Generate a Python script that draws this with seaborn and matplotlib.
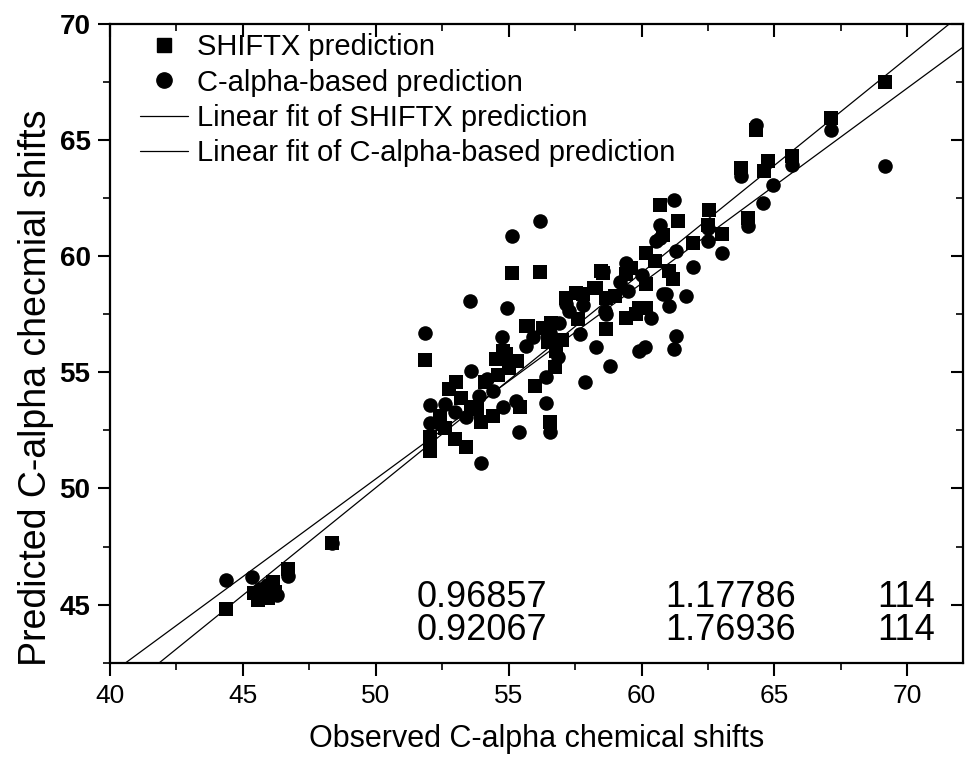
import matplotlib
matplotlib.use("Agg")
import matplotlib.pyplot as plt
from matplotlib.lines import Line2D
from matplotlib.ticker import MultipleLocator, FormatStrFormatter
import seaborn as sns
import pandas as pd

# observed vs predicted C-alpha shifts
shiftx_obs = [
    44.35, 45.41, 45.58, 45.83, 46.14, 46.20, 45.95, 46.68, 48.36,
    51.87, 52.03, 52.03, 52.97, 53.41, 53.03, 52.75, 53.60, 53.97, 54.41,
    55.41, 54.79, 54.54, 55.98, 55.73, 56.60, 56.79, 56.73, 56.54, 55.12,
    56.19, 55.66, 56.29, 54.91, 53.20, 52.40, 54.10, 54.60, 55.00, 55.30,
    53.80, 52.60, 57.17, 57.54, 58.30, 58.67, 58.67, 57.79, 58.23, 58.48,
    58.55, 59.42, 59.42, 59.80, 59.92, 60.17, 60.17, 60.17, 61.05, 61.18,
    61.36, 60.68, 62.53, 61.93, 62.49, 63.03, 63.99, 63.74, 64.77, 64.62,
    64.31, 65.66, 67.13, 69.17, 57.00, 57.60, 59.00, 59.60, 60.50, 60.80,
    56.50,
]
shiftx_pred = [
    44.79, 45.48, 45.19, 45.62, 45.98, 45.55, 45.30, 46.55, 47.67,
    55.54, 52.20, 51.63, 52.13, 51.80, 54.56, 54.30, 53.49, 52.85, 53.13,
    53.49, 55.92, 55.56, 54.42, 57.00, 57.14, 55.92, 55.21, 52.85, 59.27,
    59.33, 56.99, 56.92, 55.78, 53.90, 53.10, 54.60, 54.90, 55.20, 55.50,
    53.40, 52.60, 58.21, 58.43, 58.64, 58.21, 56.86, 58.36, 58.64, 59.36,
    59.28, 59.21, 57.35, 57.50, 57.78, 57.78, 58.79, 60.14, 59.36, 59.00,
    61.50, 62.19, 62.00, 60.57, 61.36, 60.96, 61.62, 63.79, 64.08, 63.65,
    65.44, 64.29, 65.94, 67.51, 56.40, 57.30, 58.30, 59.50, 59.80, 60.90,
    56.30,
]

calpha_obs = [
    44.36, 45.36, 45.64, 46.27, 45.89, 46.70, 48.36,
    51.87, 53.56, 54.94, 56.19, 55.14, 54.76, 53.57, 52.03, 52.59, 56.41,
    53.97, 55.38, 56.57, 55.66, 56.54, 56.85, 55.29, 54.79, 54.41, 53.41,
    52.41, 52.03, 56.41, 57.17, 55.91, 56.79, 53.00, 54.20, 55.00, 53.90,
    57.67, 58.30, 57.86, 58.80, 59.92, 60.13, 61.30, 61.24, 57.29, 58.67,
    58.61, 59.49, 59.42, 60.36, 61.05, 60.92, 61.68, 60.80, 58.55, 61.30,
    60.68, 60.55, 60.68, 61.21, 61.95, 62.49, 62.49, 63.03, 63.99, 64.59,
    63.74, 64.94, 65.66, 64.31, 67.13, 69.16, 60.00, 59.20, 57.80, 56.90,
]
calpha_pred = [
    46.05, 46.17, 45.69, 45.41, 45.84, 46.22, 47.67,
    56.68, 58.08, 57.78, 61.50, 60.86, 56.52, 55.06, 53.60, 53.63, 53.68,
    51.10, 52.42, 52.42, 56.14, 56.71, 55.64, 53.76, 53.49, 54.21, 53.06,
    52.78, 52.80, 54.78, 57.93, 56.50, 56.35, 53.30, 54.70, 55.40, 54.00,
    56.64, 56.07, 54.56, 55.28, 55.92, 56.09, 56.57, 56.00, 57.64, 57.50,
    57.64, 58.50, 59.71, 57.35, 57.85, 58.36, 58.28, 58.36, 59.36, 60.21,
    61.36, 60.64, 60.79, 62.40, 59.53, 60.64, 61.21, 60.14, 61.29, 62.29,
    63.43, 63.08, 63.94, 65.65, 65.44, 63.89, 59.20, 58.90, 57.90, 57.10,
]

series_names = ["SHIFTX prediction", "C-alpha-based prediction"]
fit_names = ["Linear fit of SHIFTX prediction",
             "Linear fit of C-alpha-based prediction"]
fit_slopes = [0.925, 0.841]
fit_intercepts = [3.78, 8.36]

stat_r = ["0.96857", "0.92067"]
stat_sd = ["1.17786", "1.76936"]
stat_n = ["114", "114"]

shiftx = pd.DataFrame({"observed": shiftx_obs, "predicted": shiftx_pred})
calpha = pd.DataFrame({"observed": calpha_obs, "predicted": calpha_pred})

sns.set_theme(style="ticks")
plt.rcParams["font.family"] = ["Liberation Sans", "DejaVu Sans"]
plt.rcParams["text.color"] = "black"
plt.rcParams["axes.labelcolor"] = "black"
plt.rcParams["xtick.color"] = "black"
plt.rcParams["ytick.color"] = "black"

fig = plt.figure(figsize=(9.65, 7.67), dpi=100)
ax = fig.add_axes([0.114, 0.136, 0.884, 0.833])

sns.scatterplot(ax=ax, data=shiftx, x="observed", y="predicted",
                marker="s", s=90, color="black", linewidth=0, legend=False)
sns.scatterplot(ax=ax, data=calpha, x="observed", y="predicted",
                marker="o", s=110, color="black", linewidth=0, legend=False)

for m, b in zip(fit_slopes, fit_intercepts):
    ax.axline((0, b), slope=m, color="black", linewidth=0.9)

ax.set_xlim(40, 72.1)
ax.set_ylim(42.5, 70)

ax.xaxis.set_major_locator(MultipleLocator(5))
ax.xaxis.set_minor_locator(MultipleLocator(2.5))
ax.yaxis.set_major_locator(MultipleLocator(5))
ax.yaxis.set_minor_locator(MultipleLocator(2.5))
ax.yaxis.set_major_formatter(FormatStrFormatter("%d"))
ax.tick_params(which="major", direction="out", length=9, width=1.5,
               color="black")
ax.tick_params(which="minor", direction="out", length=5, width=1.2,
               color="black")
ax.tick_params(axis="x", labelsize=19, pad=6)
ax.tick_params(axis="y", labelsize=20, pad=5)
plt.setp(ax.get_yticklabels(), fontweight="bold")

# mirrored ticks on top / right, pointing inward
secx = ax.secondary_xaxis("top")
secx.xaxis.set_major_locator(MultipleLocator(5))
secx.xaxis.set_minor_locator(MultipleLocator(2.5))
secx.tick_params(which="major", direction="in", length=9, width=1.5, labeltop=False)
secx.tick_params(which="minor", direction="in", length=5, width=1.2)
secy = ax.secondary_yaxis("right")
secy.yaxis.set_major_locator(MultipleLocator(5))
secy.yaxis.set_minor_locator(MultipleLocator(2.5))
secy.tick_params(which="major", direction="in", length=9, width=1.5, labelright=False)
secy.tick_params(which="minor", direction="in", length=5, width=1.2)

for sp in ax.spines.values():
    sp.set_linewidth(1.6)
    sp.set_color("black")

ax.set_xlabel("Observed C-alpha chemical shifts", fontsize=22, labelpad=12)
ax.set_ylabel("Predicted C-alpha checmial shifts", fontsize=27)
ax.yaxis.set_label_coords(-0.066, 0.43)

handles = [
    Line2D([], [], marker="s", color="black", linestyle="none", markersize=10),
    Line2D([], [], marker="o", color="black", linestyle="none", markersize=11),
    Line2D([], [], color="black", linewidth=0.9),
    Line2D([], [], color="black", linewidth=0.9),
]
ax.legend(handles, series_names + fit_names, loc="upper left",
          bbox_to_anchor=(0.035, 0.985), frameon=False, fontsize=21,
          handlelength=1.65, handletextpad=0.3, labelspacing=0.25,
          borderpad=0, borderaxespad=0)

for row, yy in enumerate([45.3, 43.9]):
    ax.text(54.0, yy, stat_r[row], ha="center", va="center", fontsize=26)
    ax.text(63.36, yy, stat_sd[row], ha="center", va="center", fontsize=26)
    ax.text(69.96, yy, stat_n[row], ha="center", va="center", fontsize=26)

plt.savefig("out.png", dpi=100)
